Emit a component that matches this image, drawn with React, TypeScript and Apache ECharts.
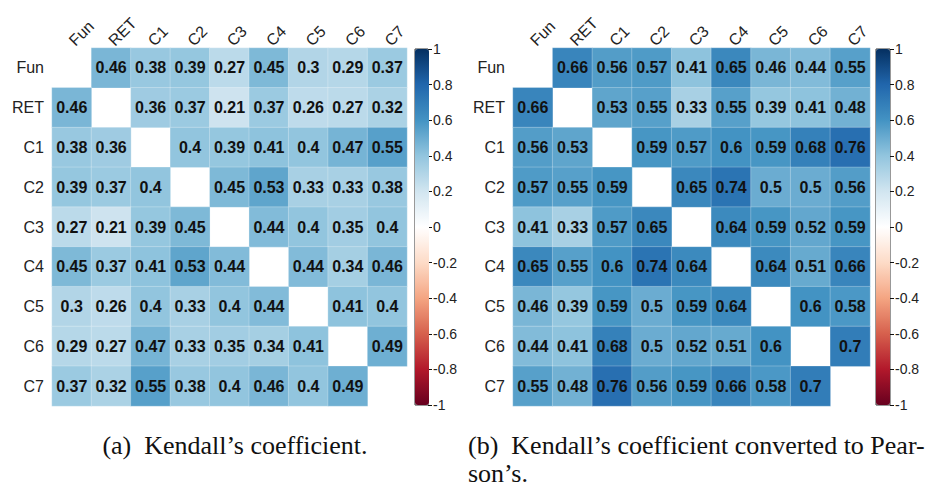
import React, { useEffect, useRef } from "react";
import * as echarts from "echarts";

const labels = ["Fun", "RET", "C1", "C2", "C3", "C4", "C5", "C6", "C7"];

// (a) Kendall's coefficient, one row per variable (null on the diagonal)
const kFun = [null, 0.46, 0.38, 0.39, 0.27, 0.45, 0.3, 0.29, 0.37];
const kRET = [0.46, null, 0.36, 0.37, 0.21, 0.37, 0.26, 0.27, 0.32];
const kC1 = [0.38, 0.36, null, 0.4, 0.39, 0.41, 0.4, 0.47, 0.55];
const kC2 = [0.39, 0.37, 0.4, null, 0.45, 0.53, 0.33, 0.33, 0.38];
const kC3 = [0.27, 0.21, 0.39, 0.45, null, 0.44, 0.4, 0.35, 0.4];
const kC4 = [0.45, 0.37, 0.41, 0.53, 0.44, null, 0.44, 0.34, 0.46];
const kC5 = [0.3, 0.26, 0.4, 0.33, 0.4, 0.44, null, 0.41, 0.4];
const kC6 = [0.29, 0.27, 0.47, 0.33, 0.35, 0.34, 0.41, null, 0.49];
const kC7 = [0.37, 0.32, 0.55, 0.38, 0.4, 0.46, 0.4, 0.49, null];

// (b) Kendall's coefficient converted to Pearson's
const pFun = [null, 0.66, 0.56, 0.57, 0.41, 0.65, 0.46, 0.44, 0.55];
const pRET = [0.66, null, 0.53, 0.55, 0.33, 0.55, 0.39, 0.41, 0.48];
const pC1 = [0.56, 0.53, null, 0.59, 0.57, 0.6, 0.59, 0.68, 0.76];
const pC2 = [0.57, 0.55, 0.59, null, 0.65, 0.74, 0.5, 0.5, 0.56];
const pC3 = [0.41, 0.33, 0.57, 0.65, null, 0.64, 0.59, 0.52, 0.59];
const pC4 = [0.65, 0.55, 0.6, 0.74, 0.64, null, 0.64, 0.51, 0.66];
const pC5 = [0.46, 0.39, 0.59, 0.5, 0.59, 0.64, null, 0.6, 0.58];
const pC6 = [0.44, 0.41, 0.68, 0.5, 0.52, 0.51, 0.6, null, 0.7];
const pC7 = [0.55, 0.48, 0.76, 0.56, 0.59, 0.66, 0.58, 0.7, null];

const kendall = [kFun, kRET, kC1, kC2, kC3, kC4, kC5, kC6, kC7];
const pearson = [pFun, pRET, pC1, pC2, pC3, pC4, pC5, pC6, pC7];

const RDBU = [
  "#67001F", "#B2182B", "#D6604D", "#F4A582", "#FDDBC7", "#FFFFFF",
  "#D1E5F0", "#92C5DE", "#4393C3", "#2166AC", "#053061",
];

const captionA = "(a)\u2002Kendall\u2019s coefficient.";
const captionB = "(b)\u2002Kendall\u2019s coefficient converted to Pear-\nson\u2019s.";

function toCells(m: (number | null)[][]) {
  const out: [number, number, number][] = [];
  m.forEach((row, i) =>
    row.forEach((v, j) => {
      if (v !== null) out.push([j, i, v]);
    })
  );
  return out;
}

const SANS = "Liberation Sans";
const SERIF = "Liberation Serif";

export default function App() {
  const ref = useRef<HTMLDivElement>(null);
  useEffect(() => {
    if (!ref.current) return;
    const chart = echarts.init(ref.current, null, { renderer: "svg" });
    const grids = [
      { left: 52, top: 48, width: 355, height: 358 },
      { left: 513, top: 48, width: 357, height: 358 },
      { left: 415, top: 49, width: 13, height: 356, show: true, borderColor: "#333", borderWidth: 1 },
      { left: 876, top: 49, width: 14, height: 356, show: true, borderColor: "#333", borderWidth: 1 },
    ];
    const catX = (g: number) => ({
      type: "category",
      gridIndex: g,
      data: labels,
      position: "top",
      axisLine: { show: false },
      axisTick: { show: false },
      splitLine: { show: false },
      axisLabel: { rotate: -45, margin: 5, interval: 0, fontSize: 16, color: "#222", fontFamily: SANS },
    });
    const catY = (g: number) => ({
      type: "category",
      gridIndex: g,
      data: labels,
      inverse: true,
      axisLine: { show: false },
      axisTick: { show: false },
      splitLine: { show: false },
      axisLabel: { margin: 8, interval: 0, fontSize: 16, color: "#222", fontFamily: SANS },
    });
    const barX = (g: number) => ({ type: "category", gridIndex: g, show: false, data: [""] });
    const barY = (g: number) => ({
      type: "value",
      gridIndex: g,
      min: -1,
      max: 1,
      interval: 0.2,
      position: "right",
      axisLine: { show: false },
      axisTick: { show: true, length: 4, lineStyle: { color: "#111", width: 1 } },
      splitLine: { show: false },
      axisLabel: {
        margin: 5,
        fontSize: 14,
        color: "#222",
        fontFamily: SANS,
        formatter: (v: number) => String(Math.round(v * 10) / 10),
      },
    });
    const heat = (g: number, m: (number | null)[][]) => ({
      type: "heatmap",
      xAxisIndex: g,
      yAxisIndex: g,
      data: toCells(m),
      itemStyle: { borderColor: "rgba(255,255,255,0.25)", borderWidth: 1 },
      label: {
        show: true,
        fontSize: 16,
        fontWeight: "bold",
        color: "#111",
        fontFamily: SANS,
        formatter: (p: any) => String(p.value[2]),
      },
    });
    const vm = (idx: number, left: number) => ({
      type: "continuous",
      min: -1,
      max: 1,
      seriesIndex: idx,
      calculable: false,
      showLabel: false,
      left,
      top: 49,
      itemWidth: 14,
      itemHeight: 356,
      padding: 0,
      inRange: { color: RDBU },
    });
    const cap = (text: string, x: number, y: number, align: string) => ({
      type: "text",
      x,
      y,
      style: {
        text,
        fontSize: 26,
        lineHeight: 28,
        fontFamily: SERIF,
        fill: "#111",
        textAlign: align,
        textVerticalAlign: "top",
      },
    });
    chart.setOption({
      animation: false,
      backgroundColor: "#fff",
      grid: grids,
      xAxis: [catX(0), catX(1), barX(2), barX(3)],
      yAxis: [catY(0), catY(1), barY(2), barY(3)],
      visualMap: [vm(0, 415), vm(1, 876)],
      series: [
        heat(0, kendall),
        heat(1, pearson),
        { type: "line", xAxisIndex: 2, yAxisIndex: 2, data: [] },
        { type: "line", xAxisIndex: 3, yAxisIndex: 3, data: [] },
      ],
      graphic: [
        cap(captionA, 235, 431, "center"),
        cap(captionB, 468, 431, "left"),
      ],
    });
    return () => chart.dispose();
  }, []);
  return (
    <div
      ref={ref}
      style={{ position: "fixed", left: 0, top: 0, width: 925, height: 488, background: "#fff" }}
    />
  );
}
